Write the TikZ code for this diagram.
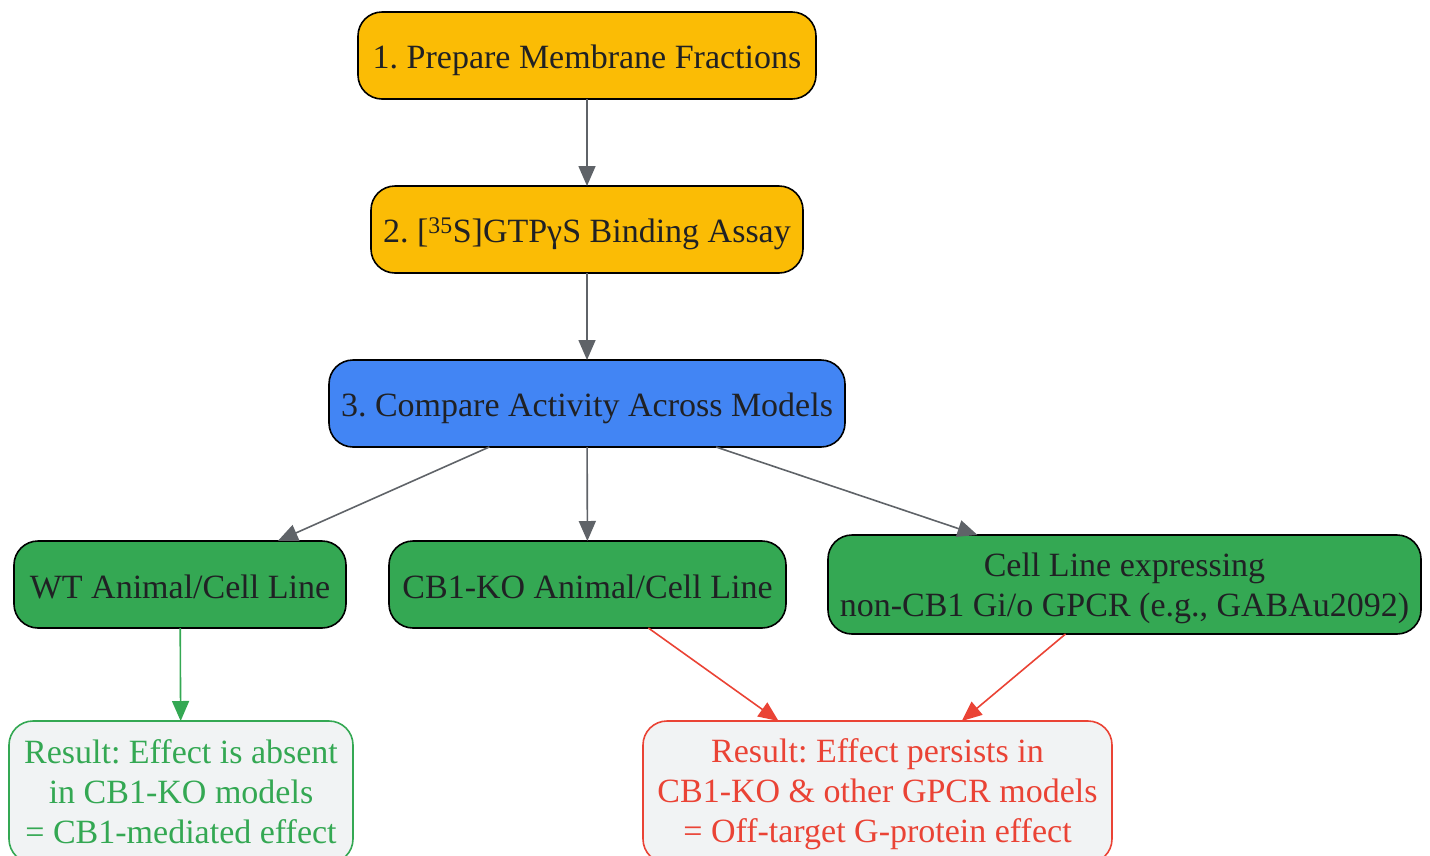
\documentclass[tikz,border=0pt]{standalone}
\usepackage{fontspec}
\setmainfont{Liberation Serif}
\frenchspacing
\usetikzlibrary{arrows.meta}
\definecolor{gyellow}{HTML}{FBBC05}
\definecolor{gblue}{HTML}{4285F4}
\definecolor{ggreen}{HTML}{34A853}
\definecolor{gred}{HTML}{EA4335}
\definecolor{ggray}{HTML}{5F6368}
\definecolor{glight}{HTML}{F1F3F4}
\definecolor{gtext}{HTML}{202124}
\tikzset{
  box/.style={draw=black, line width=1.6pt, rounded corners=24pt, align=center,
    text=gtext, minimum height=87pt, inner sep=0pt, outer sep=0pt,
    font=\fontsize{34}{40}\selectfont,
    execute at begin node={\rule{0pt}{34pt}},
    execute at end node={\rule[-7pt]{0pt}{7pt}}},
  multi/.style={execute at begin node={\rule{0pt}{#1}}},
  result/.style={box, multi=109pt, fill=glight, draw=#1, text=#1, minimum height=142pt},
  link/.style={draw=ggray, line width=1.6pt, -{Triangle[length=20pt,width=17pt]}}
}
\begin{document}
\begin{tikzpicture}[x=1pt,y=-1pt]
\clip (0,0) rectangle (1430,855);
\node [box, fill=gyellow, minimum width=458pt] (prep) at (587,55.5) {1. Prepare Membrane Fractions};
\node [box, fill=gyellow, minimum width=432pt] (assay) at (587,229.5) {2. [\textsuperscript{35}S]GTPγS Binding Assay};
\node [box, fill=gblue, minimum width=516pt] (compare) at (587,403.5) {3. Compare Activity Across Models};
\node [box, fill=ggreen, minimum width=332pt] (wt) at (180,584.5) {WT Animal/Cell Line};
\node [box, fill=ggreen, minimum width=397pt] (ko) at (587.5,584.5) {CB1-KO Animal/Cell Line};
\node [box, multi=72pt, fill=ggreen, minimum width=593pt, minimum height=99pt] (cell) at (1124.5,584.5) {Cell Line expressing\\non-CB1 Gi/o GPCR (e.g., GABAu2092)};
\node [result=ggreen, minimum width=344pt] (absent) at (181,792) {Result: Effect is absent\\in CB1-KO models\\= CB1-mediated effect};
\node [result=gred, minimum width=469pt] (persist) at (877.5,792) {Result: Effect persists in\\CB1-KO \& other GPCR models\\= Off-target G-protein effect};
\draw [link] (prep) -- (assay);
\draw [link] (assay) -- (compare);
\draw [link] (compare) -- (wt);
\draw [link] (compare) -- (ko);
\draw [link] (compare) -- (cell);
\draw [link, draw=ggreen, fill=ggreen] (wt) -- (absent);
\draw [link, draw=gred, fill=gred] (ko) -- (persist);
\draw [link, draw=gred, fill=gred] (cell) -- (persist);
\end{tikzpicture}
\end{document}
